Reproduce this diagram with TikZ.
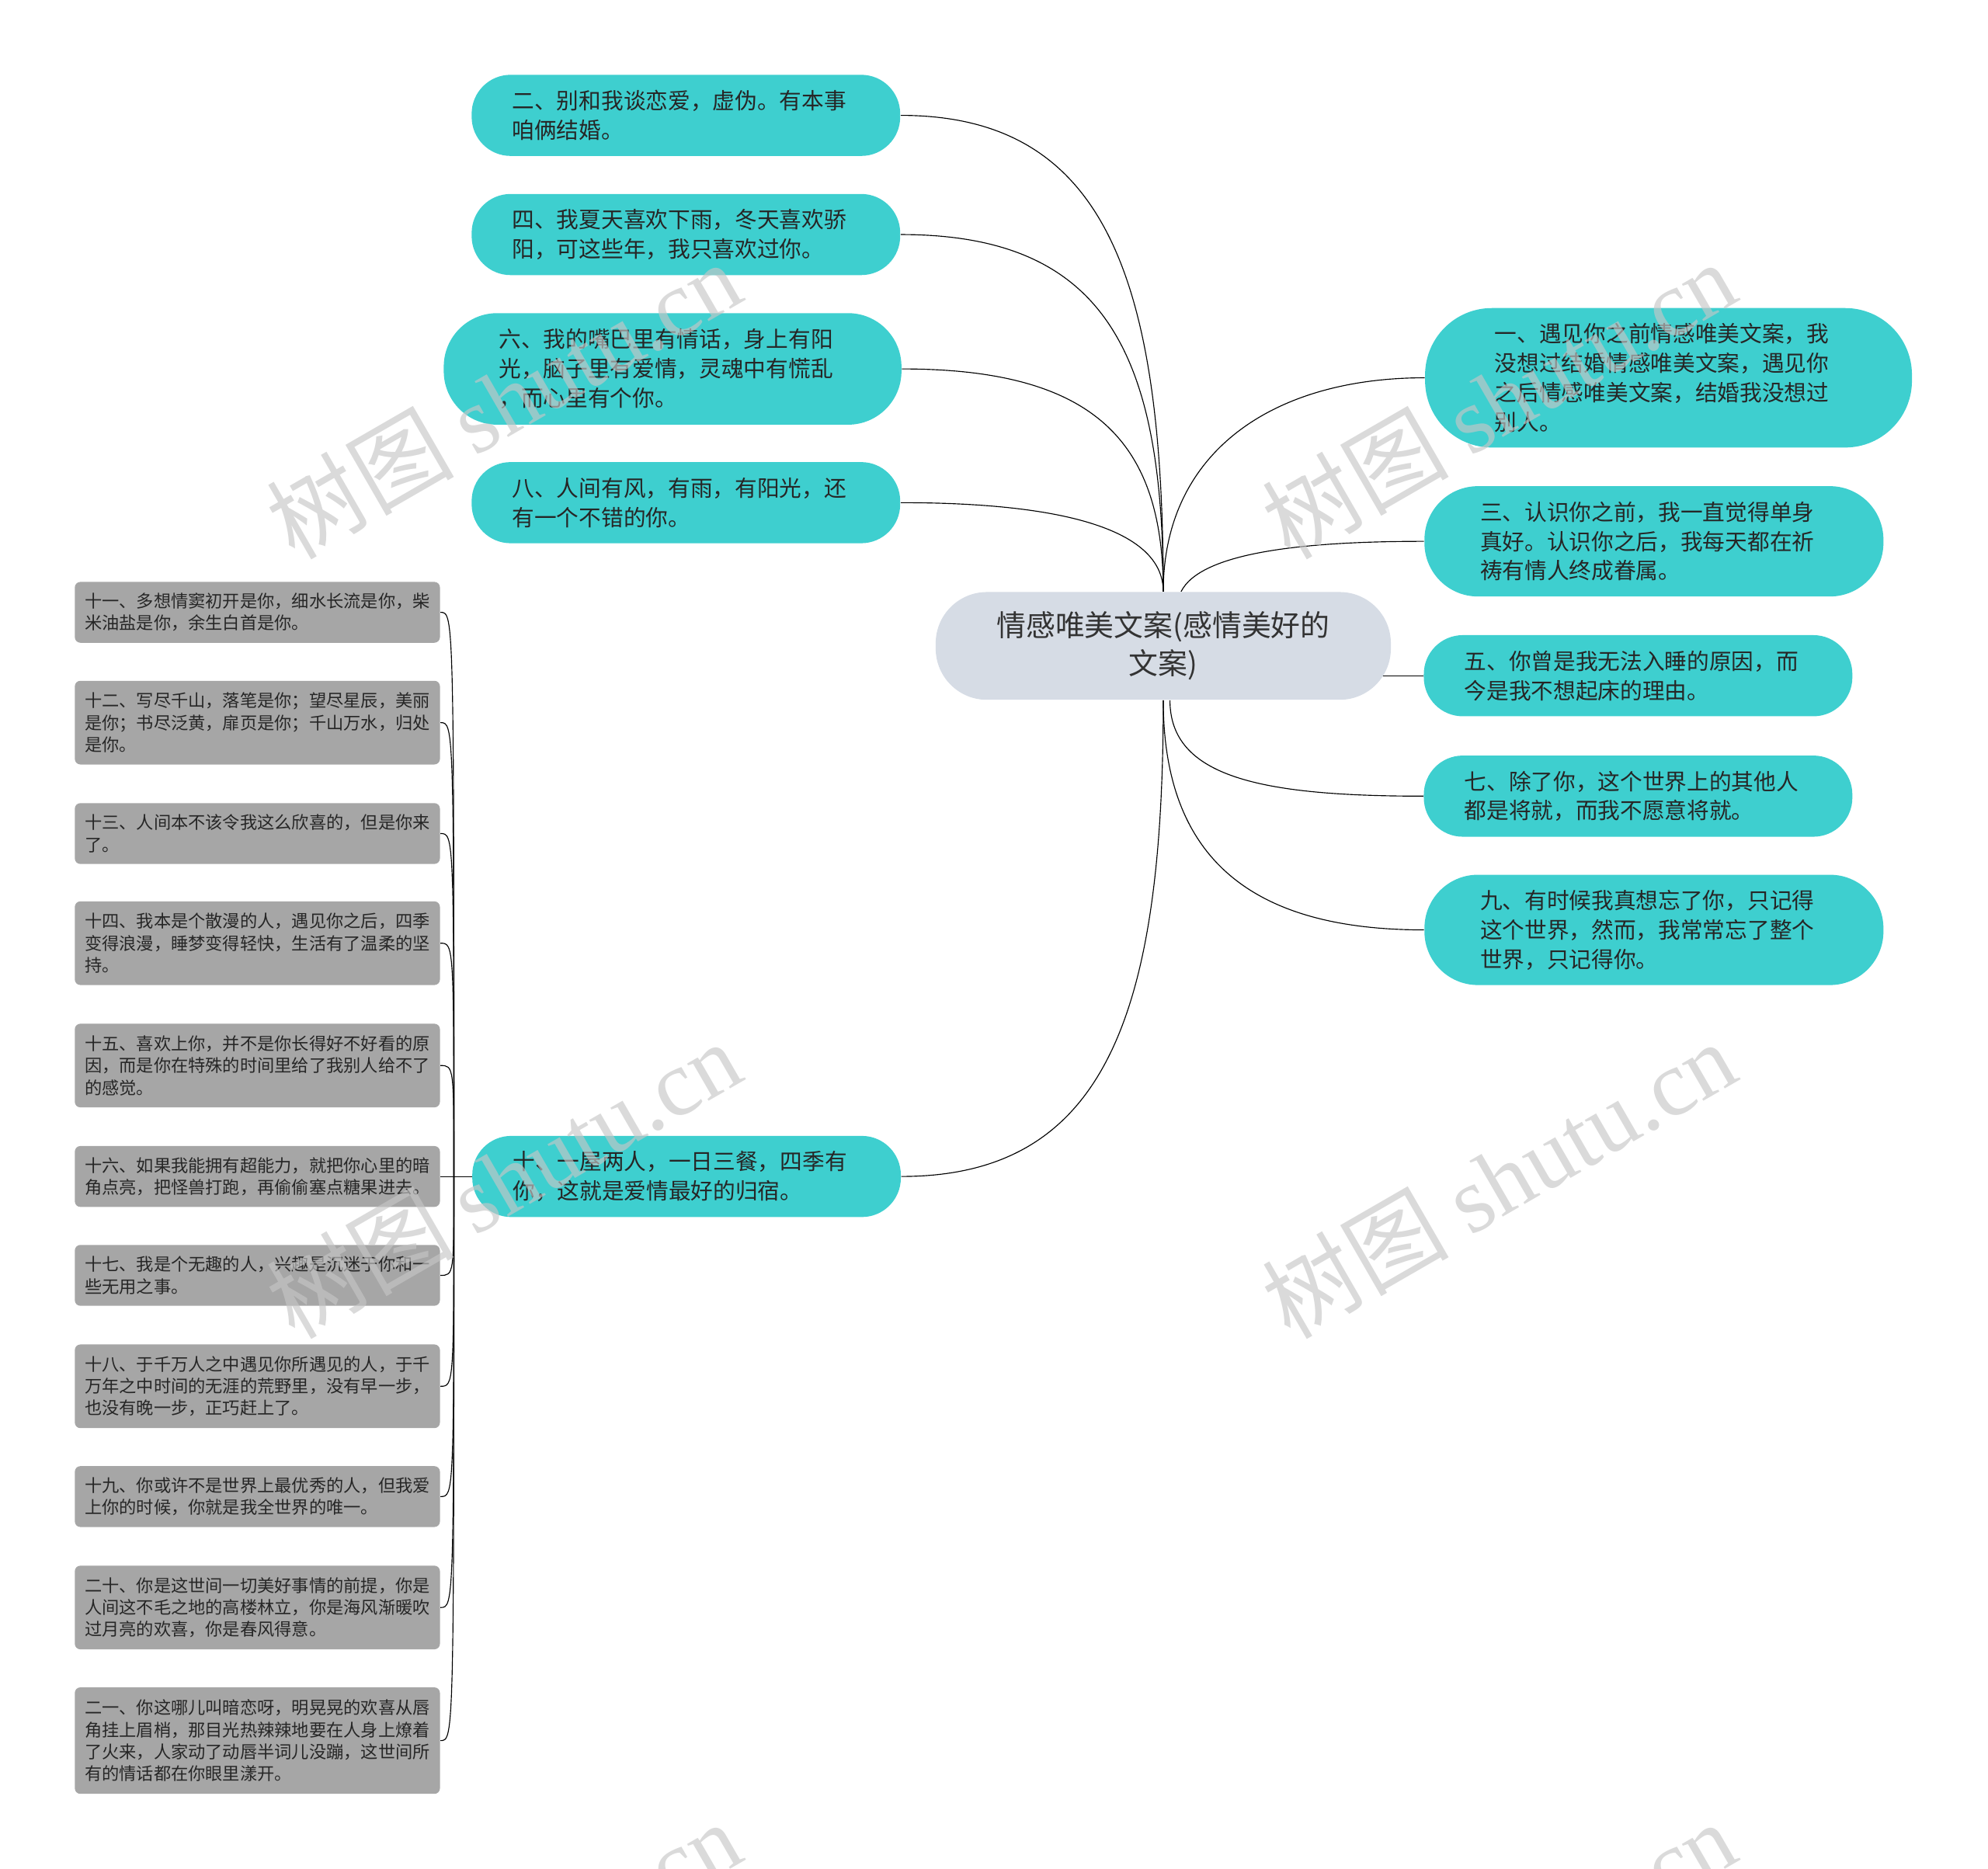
\documentclass[tikz,border=0pt]{standalone}
\usepackage{fontspec}
\setmainfont{Noto Sans CJK SC}
\newfontfamily\latinserif{Liberation Serif}
\usetikzlibrary{backgrounds}

\definecolor{leafteal}{RGB}{62,207,207}
\definecolor{rootgray}{RGB}{214,220,229}
\definecolor{notegray}{RGB}{166,166,166}
\definecolor{markgray}{RGB}{198,198,198}

\def\px{0.02cm}

\tikzset{
  topic/.style={fill=rootgray, text=black!80, align=center, rounded corners=23pt,
    minimum width=359*\px, minimum height=85*\px, inner sep=0pt,
    font=\fontsize{13.2}{17}\selectfont},
  leaf/.style n args={3}{fill=leafteal, text=black!85, align=left, inner sep=0pt,
    text width=274*\px, minimum width=#1*\px, minimum height=#2*\px, rounded corners=#3,
    font=\fontsize{10}{13.2}\selectfont},
  note/.style={fill=notegray, text=black!85, align=left, inner sep=0pt,
    rounded corners=2.5pt, minimum width=288*\px, minimum height=#1*\px,
    font=\fontsize{7.75}{9.9}\selectfont},
  link/.style={draw=black!85, line width=1pt},
  stamp/.style={text=markgray, opacity=0.65, rotate=30, inner sep=0pt, font=\fontsize{42}{42}\selectfont}
}

\begin{document}
\begin{tikzpicture}[x=\px, y=-\px]

	%Page frame
	\useasboundingbox (0,0) rectangle (1568,1474);
	\clip (0,0) rectangle (1568,1474);

	%Central topic
	\node[topic] (root) at (917.5,509.5) {情感唯美文案(感情美好的\\文案)};

	%Branches on the right
	\node[leaf={384}{110}{30pt}] (n1) at (1316,298) {一、遇见你之前情感唯美文案，我\\没想过结婚情感唯美文案，遇见你\\之后情感唯美文案，结婚我没想过\\别人。};
	\node[leaf={362}{87}{24pt}] (n3) at (1304.5,427) {三、认识你之前，我一直觉得单身\\真好。认识你之后，我每天都在祈\\祷有情人终成眷属。};
	\node[leaf={338}{64}{17.5pt}] (n5) at (1292,533) {五、你曾是我无法入睡的原因，而\\今是我不想起床的理由。};
	\node[leaf={338}{64}{17.5pt}] (n7) at (1292,628) {七、除了你，这个世界上的其他人\\都是将就，而我不愿意将就。};
	\node[leaf={362}{87}{24pt}] (n9) at (1304.5,733.5) {九、有时候我真想忘了你，只记得\\这个世界，然而，我常常忘了整个\\世界，只记得你。};

	%Branches on the left
	\node[leaf={338}{64}{17.5pt}] (n2) at (541,91) {二、别和我谈恋爱，虚伪。有本事\\咱俩结婚。};
	\node[leaf={338}{64}{17.5pt}] (n4) at (541,185) {四、我夏天喜欢下雨，冬天喜欢骄\\阳，可这些年，我只喜欢过你。};
	\node[leaf={361}{88}{24pt}] (n6) at (530.5,291) {六、我的嘴巴里有情话，身上有阳\\光，脑子里有爱情，灵魂中有慌乱\\，而心里有个你。};
	\node[leaf={338}{64}{17.5pt}] (n8) at (541,396.5) {八、人间有风，有雨，有阳光，还\\有一个不错的你。};
	\node[leaf={338}{64}{17.5pt}] (n10) at (541.5,928) {十、一屋两人，一日三餐，四季有\\你，这就是爱情最好的归宿。};

	%Notes hanging from branch ten
	\node[note=48] (g11) at (203,483) {十一、多想情窦初开是你，细水长流是你，柴\\米油盐是你，余生白首是你。};
	\node[note=66] (g12) at (203,570) {十二、写尽千山，落笔是你；望尽星辰，美丽\\是你；书尽泛黄，扉页是你；千山万水，归处\\是你。};
	\node[note=48] (g13) at (203,657.5) {十三、人间本不该令我这么欣喜的，但是你来\\了。};
	\node[note=66] (g14) at (203,744) {十四、我本是个散漫的人，遇见你之后，四季\\变得浪漫，睡梦变得轻快，生活有了温柔的坚\\持。};
	\node[note=66] (g15) at (203,840.5) {十五、喜欢上你，并不是你长得好不好看的原\\因，而是你在特殊的时间里给了我别人给不了\\的感觉。};
	\node[note=48] (g16) at (203,928) {十六、如果我能拥有超能力，就把你心里的暗\\角点亮，把怪兽打跑，再偷偷塞点糖果进去。};
	\node[note=48] (g17) at (203,1006) {十七、我是个无趣的人，兴趣是沉迷于你和一\\些无用之事。};
	\node[note=66] (g18) at (203,1093.5) {十八、于千万人之中遇见你所遇见的人，于千\\万年之中时间的无涯的荒野里，没有早一步，\\也没有晚一步，正巧赶上了。};
	\node[note=48] (g19) at (203,1180.5) {十九、你或许不是世界上最优秀的人，但我爱\\上你的时候，你就是我全世界的唯一。};
	\node[note=66] (g20) at (203,1268) {二十、你是这世间一切美好事情的前提，你是\\人间这不毛之地的高楼林立，你是海风渐暖吹\\过月亮的欢喜，你是春风得意。};
	\node[note=84] (g21) at (203,1373) {二一、你这哪儿叫暗恋呀，明晃晃的欢喜从唇\\角挂上眉梢，那目光热辣辣地要在人身上燎着\\了火来，人家动了动唇半词儿没蹦，这世间所\\有的情话都在你眼里漾开。};

	%Drawing connectors
	\begin{scope}[on background layer, link]
		\draw (root.north) .. controls +(0,-250) and +(160,0) .. (n2.east);
		\draw (root.north) .. controls +(0,-190) and +(160,0) .. (n4.east);
		\draw (root.north) .. controls +(0,-120) and +(150,0) .. (n6.east);
		\draw (root.north) .. controls +(0,-45) and +(140,0) .. (n8.east);
		\draw (root.north) .. controls +(0,-110) and +(-120,0) .. (n1.west);
		\draw ([xshift=8pt]root.north) .. controls +(15,-30) and +(-100,0) .. (n3.west);
		\draw (root.center |- n5.west) -- (n5.west);
		\draw ([xshift=3pt]root.south) .. controls +(0,60) and +(-130,0) .. (n7.west);
		\draw (root.south) .. controls +(0,130) and +(-130,0) .. (n9.west);
		\draw (root.south) .. controls +(0,250) and +(160,0) .. (n10.east);
		\coordinate (hub) at (358,928);
		\draw (n10.west) -- (hub);
		\foreach \g in {11,...,21}
			\draw (hub) .. controls (hub |- g\g.east) .. (g\g.east);
	\end{scope}

	%Watermarks
	\foreach \wx/\wy [count=\k] in {397/315, 1182/315, 397/930, 1182/930, 397/1545, 1182/1545}
		\node[stamp] (mark\k) at (\wx,\wy) {树图 {\latinserif shutu.cn}};

\end{tikzpicture}
\end{document}
